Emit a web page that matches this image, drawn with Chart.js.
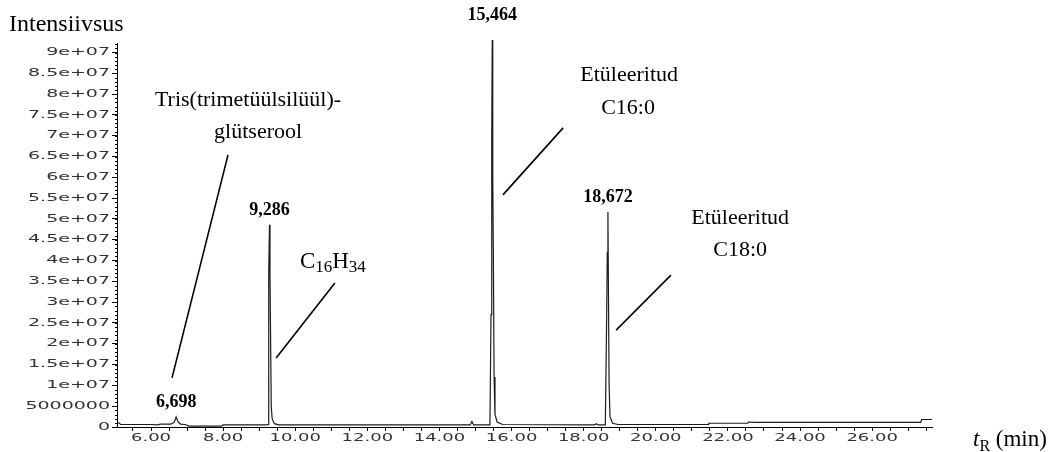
<!DOCTYPE html>
<html lang="et">
<head>
<meta charset="UTF-8">
<title>Kromatogramm</title>
<script src="https://cdn.jsdelivr.net/npm/chart.js"></script>
<style>
  html, body { margin: 0; padding: 0; background: #fff; }
  #wrap { position: relative; width: 1050px; height: 452px; }
</style>
</head>
<body>
<div id="wrap"><canvas id="chrom"></canvas></div>
<script>
// retention time, min
const rtMin = [
  5.06, 5.10, 5.16, 5.50, 6.00, 6.20, 6.25, 6.55, 6.64, 6.698, 6.75, 6.82, 6.95,
  7.05, 7.95, 8.00, 9.22, 9.25, 9.265, 9.286, 9.30, 9.315, 9.335, 9.36, 9.42, 9.55,
  14.85, 14.90, 14.95, 15.40, 15.43, 15.45, 15.464, 15.478, 15.495, 15.515, 15.54, 15.60, 15.75,
  18.30, 18.35, 18.40, 18.60, 18.635, 18.655, 18.672, 18.688, 18.705, 18.73, 18.80, 18.95,
  21.45, 21.47, 22.55, 22.57, 22.75, 27.35, 27.37, 27.66
];
// detector response
const intensity = [
  1.2e6, 1.0e6, 6e5, 6e5, 6e5, 5e5, 7e5, 7e5, 1.1e6, 2.4e6, 1.2e6, 7e5, 6e5,
  2e5, 2e5, 5e5, 5e5, 6e5, 3.7e7, 4.86e7, 3.7e7, 2.3e7, 5e6, 2e6, 8e5, 5e5,
  5e5, 1.3e6, 5e5, 5e5, 2.7e7, 7e7, 9.3e7, 6e7, 4.1e7, 1.2e7, 3e6, 1.2e6, 6e5,
  5e5, 8e5, 5e5, 5e5, 2.5e7, 4.2e7, 5.17e7, 3.05e7, 1e7, 2.5e6, 9e5, 6e5,
  6e5, 9e5, 9e5, 1.2e6, 1.1e6, 1.1e6, 1.8e6, 1.8e6
];

// labelled peaks (retention times)
const peakRt = [6.698, 9.286, 15.464, 18.672];
const peakGap = [10, 10, 20, 10];

// axis ticks
const xTickValues = [6, 8, 10, 12, 14, 16, 18, 20, 22, 24, 26];
const xTickLabels = ['6.00', '8.00', '10.00', '12.00', '14.00', '16.00', '18.00', '20.00', '22.00', '24.00', '26.00'];
const yTickValues = [0, 5e6, 1e7, 1.5e7, 2e7, 2.5e7, 3e7, 3.5e7, 4e7, 4.5e7, 5e7, 5.5e7, 6e7, 6.5e7, 7e7, 7.5e7, 8e7, 8.5e7, 9e7];
const yTickLabels = ['0', '5000000', '1e+07', '1.5e+07', '2e+07', '2.5e+07', '3e+07', '3.5e+07', '4e+07',
  '4.5e+07', '5e+07', '5.5e+07', '6e+07', '6.5e+07', '7e+07', '7.5e+07', '8e+07', '8.5e+07', '9e+07'];

// compound names and pointer lines, in data units
const notes = [
  { text: 'Tris(trimetüülsilüül)-', x: 8.69, y: 7.86e7 },
  { text: 'glütserool', x: 8.97, y: 7.09e7 },
  { text: 'Etüleeritud', x: 19.26, y: 8.46e7 },
  { text: 'C16:0', x: 19.23, y: 7.67e7 },
  { text: 'Etüleeritud', x: 22.34, y: 5.02e7 },
  { text: 'C18:0', x: 22.34, y: 4.25e7 }
];
const pointers = [
  [8.136, 6.54e7, 6.583, 1.18e7],
  [11.10, 3.46e7, 9.47, 1.66e7],
  [17.43, 7.19e7, 15.76, 5.58e7],
  [20.42, 3.65e7, 18.90, 2.33e7]
];

function wideText(ctx, txt, x, y, align, sx) {
  ctx.save();
  ctx.translate(x, y);
  ctx.scale(sx, 1);
  ctx.textAlign = align;
  ctx.fillText(txt, 0, 0);
  ctx.restore();
}

const decorations = {
  id: 'decorations',
  afterDraw(chart) {
    const ctx = chart.ctx;
    const xs = chart.scales.x, ys = chart.scales.y;
    ctx.save();
    ctx.fillStyle = '#000';
    ctx.strokeStyle = '#000';

    // small ticks along the intensity axis
    ctx.lineWidth = 1;
    ctx.beginPath();
    for (let v = 0; v <= 9.2e7; v += 1e6) {
      const py = Math.round(ys.getPixelForValue(v)) + 0.5;
      ctx.moveTo(xs.left - 2, py);
      ctx.lineTo(xs.left, py);
    }
    ctx.stroke();

    // tick labels
    ctx.fillStyle = '#333';
    ctx.font = '10px "DejaVu Sans"';
    ctx.textBaseline = 'middle';
    yTickValues.forEach((v, i) => {
      wideText(ctx, yTickLabels[i], 110, ys.getPixelForValue(v), 'right', 1.9);
    });
    xTickValues.forEach((v, i) => {
      wideText(ctx, xTickLabels[i], xs.getPixelForValue(v), 438, 'center', 1.8);
    });

    // peak retention times
    ctx.fillStyle = '#000';
    ctx.font = 'bold 18px "Liberation Serif"';
    ctx.textBaseline = 'alphabetic';
    ctx.textAlign = 'center';
    peakRt.forEach((rt, i) => {
      const h = intensity[rtMin.indexOf(rt)];
      const label = rt.toFixed(3).replace('.', ',');
      ctx.fillText(label, xs.getPixelForValue(rt), ys.getPixelForValue(h) - peakGap[i]);
    });

    // compound names
    ctx.font = '22px "Liberation Serif"';
    ctx.textBaseline = 'middle';
    notes.forEach(n => {
      ctx.fillText(n.text, xs.getPixelForValue(n.x), ys.getPixelForValue(n.y));
    });
    // C16H34 with subscripts
    let cx = xs.getPixelForValue(10.13);
    const cy = ys.getPixelForValue(3.97e7);
    ctx.textAlign = 'left';
    [['C', 23, 0], ['16', 17, 6], ['H', 23, 0], ['34', 17, 6]].forEach(([t, size, dy]) => {
      ctx.font = size + 'px "Liberation Serif"';
      ctx.fillText(t, cx, cy + dy);
      cx += ctx.measureText(t).width;
    });

    // pointer lines
    ctx.lineWidth = 1.6;
    ctx.beginPath();
    pointers.forEach(([x1, y1, x2, y2]) => {
      ctx.moveTo(xs.getPixelForValue(x1), ys.getPixelForValue(y1));
      ctx.lineTo(xs.getPixelForValue(x2), ys.getPixelForValue(y2));
    });
    ctx.stroke();

    // axis titles
    ctx.textBaseline = 'alphabetic';
    ctx.font = '24px "Liberation Serif"';
    ctx.fillText('Intensiivsus', 9, 31);
    let tx = 973;
    ctx.font = 'italic 23px "Liberation Serif"';
    ctx.fillText('t', tx, 446);
    tx += ctx.measureText('t').width;
    ctx.font = '16px "Liberation Serif"';
    ctx.fillText('R', tx, 451);
    tx += ctx.measureText('R').width;
    ctx.font = '23px "Liberation Serif"';
    ctx.fillText(' (min)', tx, 446);
    ctx.restore();
  }
};

new Chart(document.getElementById('chrom'), {
  type: 'line',
  data: {
    datasets: [{
      data: rtMin.map((x, i) => ({ x: x, y: intensity[i] })),
      borderColor: '#1c1c1c',
      borderWidth: 1.2,
      pointRadius: 0,
      tension: 0,
      clip: false
    }]
  },
  options: {
    responsive: true,
    maintainAspectRatio: false,
    animation: false,
    layout: { padding: { top: 43, right: 118, bottom: 0, left: 0 } },
    plugins: { legend: { display: false }, tooltip: { enabled: false } },
    scales: {
      x: {
        type: 'linear',
        min: 5.057,
        max: 27.66,
        afterBuildTicks(s) {
          const t = [];
          for (let v = 5.5; v <= 27.5; v += 0.5) t.push({ value: v });
          s.ticks = t;
        },
        afterFit(s) { s.height = 25; },
        ticks: { display: false },
        grid: { drawOnChartArea: false, tickLength: 4, color: '#000', lineWidth: 1 },
        border: { color: '#000', width: 1 }
      },
      y: {
        min: 0,
        max: 9.23e7,
        afterBuildTicks(s) { s.ticks = yTickValues.map(v => ({ value: v })); },
        afterFit(s) { s.width = 117; },
        ticks: { display: false },
        grid: { drawOnChartArea: false, tickLength: 5, color: '#000', lineWidth: 1 },
        border: { color: '#000', width: 1 }
      }
    }
  },
  plugins: [decorations]
});
</script>
</body>
</html>
